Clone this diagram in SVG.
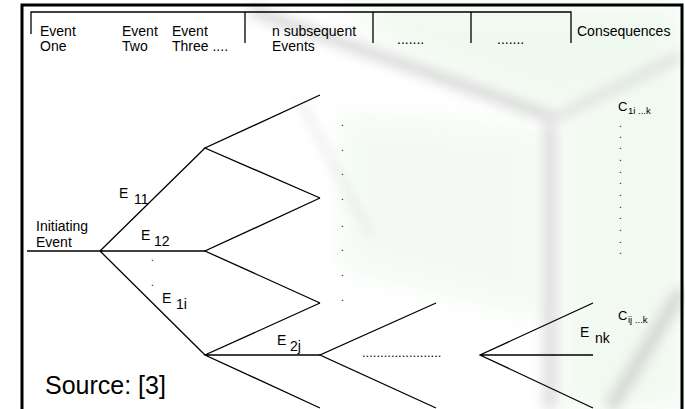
<svg xmlns="http://www.w3.org/2000/svg" width="685" height="409" viewBox="0 0 685 409">
<style>
.t{font-family:"Liberation Sans",Arial,sans-serif;fill:#000}
.h{font-size:14px}
.e{font-size:14px}
.c{font-size:13px}
.s{font-size:9.5px}
.d{font-size:10px}
.ln{stroke:#000;stroke-width:1.3;fill:none}
</style>
<defs>
<filter id="blur" x="-20%" y="-20%" width="140%" height="140%"><feGaussianBlur stdDeviation="6"/></filter>
<filter id="soft" x="-20%" y="-20%" width="140%" height="140%"><feGaussianBlur stdDeviation="12"/></filter>
</defs>
<rect x="0" y="0" width="685" height="409" fill="#fff"/>
<g id="background">
<g filter="url(#soft)" opacity="0.8">
<polygon points="330,5 682,5 682,70 560,112 430,65" fill="#edf8ec"/>
<polygon points="340,110 540,125 540,320 340,270" fill="#f2faf1"/>
<polygon points="565,120 682,65 682,409 565,409" fill="#eef8ed"/>
</g>
<g filter="url(#blur)" opacity="0.55">
<path d="M250,10 L555,118" stroke="#bdbdbd" stroke-width="12" fill="none"/>
<path d="M555,118 L682,55" stroke="#cfcfcf" stroke-width="10" fill="none"/>
<path d="M550,125 L550,409" stroke="#c4c4c4" stroke-width="14" fill="none"/>
<path d="M610,409 L682,290" stroke="#bdbdbd" stroke-width="14" fill="none"/>
<path d="M300,100 L370,235" stroke="#d8d8d8" stroke-width="6" fill="none"/>
</g>
</g>
<g id="frame">
<path d="M22,409 V5 H682 V409" stroke="#000" stroke-width="3" fill="none"/>
<path d="M31,34 V12 H571 V43 M245,12 V43 M373,12 V43 M471,12 V43" stroke="#000" stroke-width="1.3" fill="none"/>
</g>
<g id="header">
<text class="t h" x="40" y="36">Event</text>
<text class="t h" x="40" y="51">One</text>
<text class="t h" x="122" y="36">Event</text>
<text class="t h" x="122" y="51">Two</text>
<text class="t h" x="172" y="36">Event</text>
<text class="t h" x="172" y="51">Three ....</text>
<text class="t h" x="272" y="36">n subsequent</text>
<text class="t h" x="272" y="51">Events</text>
<text class="t h" x="397" y="44">.......</text>
<text class="t h" x="497" y="44">.......</text>
<text class="t h" x="577" y="36">Consequences</text>
</g>
<g id="connectors">
<path class="ln" d="M27,251 H100"/>
<path class="ln" d="M100,251 L205,148 M100,251 H205 M100,251 L205,355"/>
<path class="ln" d="M320,95 L205,148 L320,198"/>
<path class="ln" d="M320,198 L205,251 L320,303"/>
<path class="ln" d="M320,303 L205,355 L320,408 M205,355 H320"/>
<path class="ln" d="M436,303 L320,355 L436,408"/>
<path class="ln" d="M593,303 L480,355 L593,408 M480,355 H593"/>
</g>
<g id="initiating-event">
<text class="t h" x="36" y="231">Initiating</text>
<text class="t h" x="36" y="247">Event</text>
</g>
<g id="e11"><text class="t e" x="119" y="198">E</text><text class="t e" x="134" y="204">11</text></g>
<g id="e12"><text class="t e" x="141" y="240">E</text><text class="t e" x="154" y="246">12</text></g>
<g id="e12-dots"><text class="t d" x="151" y="261">.</text><text class="t d" x="151" y="286">.</text></g>
<g id="e1i"><text class="t e" x="162" y="303">E</text><text class="t e" x="176" y="309">1i</text></g>
<g id="e2j"><text class="t e" x="277" y="345">E</text><text class="t e" x="290" y="351">2j</text></g>
<g id="enk"><text class="t e" x="580" y="337">E</text><text class="t e" x="595" y="343">nk</text></g>
<g id="c1ik"><text class="t c" x="618" y="111">C</text><text class="t s" x="628" y="114">1i ...k</text></g>
<g id="cijk"><text class="t c" x="618" y="320">C</text><text class="t s" x="628" y="323">ij ...k</text></g>
<g id="mid-dots">
<text class="t d" x="341" y="126">.</text>
<text class="t d" x="341" y="151">.</text>
<text class="t d" x="341" y="175">.</text>
<text class="t d" x="341" y="200">.</text>
<text class="t d" x="341" y="227">.</text>
<text class="t d" x="341" y="251">.</text>
<text class="t d" x="341" y="276">.</text>
<text class="t d" x="341" y="301">.</text>
</g>
<g id="cons-dots">
<text class="t d" x="619" y="127">.</text>
<text class="t d" x="619" y="138">.</text>
<text class="t d" x="619" y="149">.</text>
<text class="t d" x="619" y="161">.</text>
<text class="t d" x="619" y="173">.</text>
<text class="t d" x="619" y="184">.</text>
<text class="t d" x="619" y="196">.</text>
<text class="t d" x="619" y="208">.</text>
<text class="t d" x="619" y="219">.</text>
<text class="t d" x="619" y="231">.</text>
<text class="t d" x="619" y="243">.</text>
<text class="t d" x="619" y="254">.</text>
</g>
<g id="dotted-gap"><text class="t c" x="362" y="357">......................</text></g>
<g id="source"><text class="t" x="45" y="394" font-size="25">Source: [3]</text></g>
</svg>
